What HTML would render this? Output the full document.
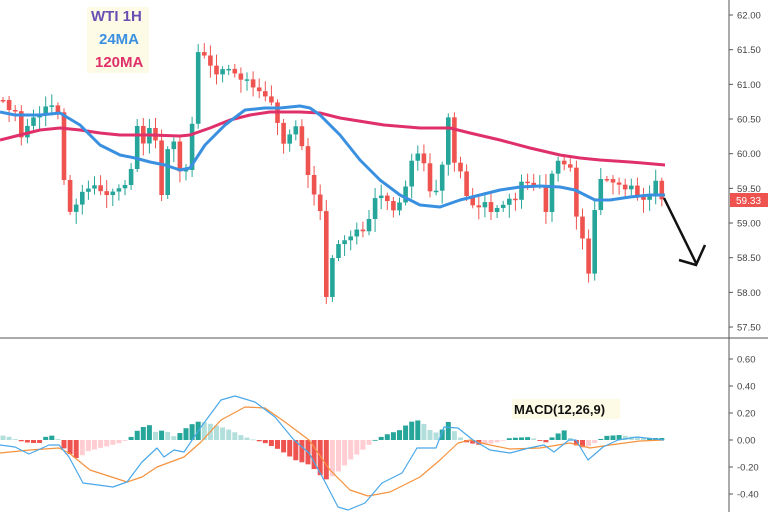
<!DOCTYPE html>
<html><head><meta charset="utf-8"><style>
body{margin:0;background:#fff;}
svg{display:block;font-family:"Liberation Sans",sans-serif;}
</style></head><body>
<svg id="s" width="768" height="512" viewBox="0 0 768 512"></svg>
<script>
const s=document.getElementById('s');let h='';
function interp(pts,x){for(let i=0;i<pts.length-1;i++){if(x>=pts[i][0]&&x<=pts[i+1][0]){const t=(x-pts[i][0])/(pts[i+1][0]-pts[i][0]);return pts[i][1]+t*(pts[i+1][1]-pts[i][1]);}}return pts[x<pts[0][0]?0:pts.length-1][1];}
function poly(p,c,w){return '<polyline fill="none" stroke="'+c+'" stroke-width="'+w+'" stroke-linejoin="round" points="'+p.map(a=>a.join(',')).join(' ')+'"/>';}
// axes
h+='<line x1="729" y1="0" x2="729" y2="512" stroke="#555" stroke-width="1"/>';
h+='<line x1="0" y1="338" x2="768" y2="338" stroke="#555" stroke-width="1"/>';
const pl=['62.00','61.50','61.00','60.50','60.00','59.50','59.00','58.50','58.00','57.50'];
pl.forEach((t,i)=>{const y=15+i*34.67;h+='<line x1="729" y1="'+y+'" x2="733" y2="'+y+'" stroke="#555"/><text x="737" y="'+(y+3.5)+'" font-size="9.5" fill="#444">'+t+'</text>';});
const ml=[['0.60',359],['0.40',386],['0.20',413],['0.00',440],['-0.20',467],['-0.40',494]];
ml.forEach(a=>{h+='<line x1="729" y1="'+a[1]+'" x2="733" y2="'+a[1]+'" stroke="#555"/><text x="737" y="'+(a[1]+3.5)+'" font-size="9.5" fill="#444">'+a[0]+'</text>';});
// candles
const cp=[[0,100],[3,100],[9,110],[15,110],[20,140],[25,130],[32,118],[40,115],[50,100],[56,118],[62,100],[64,180],[70,212],[76,205],[82,192],[95,185],[105,196],[112,192],[125,185],[130,180],[136,120],[142,150],[147,125],[155,135],[161,200],[167,150],[175,140],[180,172],[186,170],[192,125],[198,52],[204,55],[210,65],[216,75],[220,70],[226,68],[232,70],[240,80],[246,78],[255,90],[262,92],[268,100],[275,105],[281,148],[287,138],[293,130],[299,122],[305,172],[311,178],[317,210],[323,212],[327,315],[331,262],[337,245],[345,240],[353,235],[360,225],[366,238],[372,200],[380,195],[386,198],[392,212],[398,205],[404,195],[410,163],[416,155],[422,150],[428,192],[434,190],[440,192],[447,105],[453,162],[459,165],[466,195],[472,205],[478,208],[485,202],[491,212],[497,208],[503,205],[510,198],[516,200],[522,180],[528,183],[534,186],[540,185],[547,217],[553,165],[559,160],[565,165],[571,168],[577,222],[583,240],[589,276],[596,195],[602,175],[608,180],[614,183],[620,185],[626,190],[632,185],[638,198],[644,200],[650,195],[656,180],[662,200]];
let prev=100;
for(let i=0;i<109;i++){const x=3+i*6.1;const c=interp(cp,x);const o=prev;const top=Math.min(o,c),bot=Math.max(o,c);
const col=c<o?'#26a69a':'#ef5350';const w1=3+((i*37)%9),w2=3+((i*53)%11);
h+='<line x1="'+x+'" y1="'+(top-w1)+'" x2="'+x+'" y2="'+(bot+w2)+'" stroke="'+col+'" stroke-width="1"/>';
h+='<rect x="'+(x-2.3)+'" y="'+top+'" width="4.6" height="'+Math.max(1.5,bot-top)+'" fill="'+col+'"/>';prev=c;}
// MAs
const pink=[[0,140],[20,135],[40,130],[60,128],[80,130],[100,133],[120,135],[150,135],[180,136],[190,135],[210,128],[230,120],[250,115],[270,112],[300,112],[320,113],[340,118],[384,125],[420,128],[450,128],[470,133],[500,140],[530,148],[560,155],[580,158],[600,160],[630,162],[665,165]];
const blue=[[0,112],[15,115],[40,115],[60,113],[80,125],[100,145],[120,155],[135,158],[150,162],[165,165],[180,170],[190,168],[205,145],[225,125],[245,110],[265,108],[280,108],[300,106],[310,108],[320,115],[340,135],[360,160],[380,180],[400,195],[420,205],[440,207],[460,200],[480,195],[500,190],[520,187],[540,186],[560,187],[575,190],[585,195],[595,200],[610,200],[630,197],[650,195],[665,195]];
h+=poly(pink,'#e0306a',3)+poly(blue,'#3a90e0',3);
// price label
h+='<rect x="730" y="193" width="38" height="14" fill="#ef5350"/><text x="736" y="204" font-size="10" fill="#fff">59.33</text>';
// arrow
h+='<polyline fill="none" stroke="#111" stroke-width="2.5" points="664,198 696,263"/><polyline fill="none" stroke="#111" stroke-width="2.5" points="679,260 696,265 705,245"/>';
// legend
h+='<rect x="87" y="7" width="62" height="66" fill="#fdfbe6"/>';
h+='<text x="91" y="21" font-size="15" font-weight="bold" fill="#6a4fb3">WTI 1H</text>';
h+='<text x="99" y="44" font-size="15" font-weight="bold" fill="#3a90e0">24MA</text>';
h+='<text x="95" y="67" font-size="15" font-weight="bold" fill="#e0306a">120MA</text>';
// histogram
const hp=[[0,5],[10,3],[20,-1],[30,-3],[40,-3],[45,3],[55,5],[60,-2],[65,-10],[75,-18],[80,-18],[85,-12],[100,-8],[120,-3],[130,2],[140,12],[150,15],[155,8],[165,10],[175,3],[190,15],[200,19],[215,15],[230,10],[245,3],[255,0],[265,-3],[280,-10],[295,-20],[310,-25],[325,-40],[335,-35],[350,-20],[365,-8],[375,0],[385,5],[400,10],[410,18],[420,20],[430,10],[440,6],[447,20],[455,8],[465,-2],[480,-5],[495,-3],[510,2],[530,3],[545,-3],[555,5],[565,10],[575,-5],[585,-8],[595,-3],[605,4],[620,5],[640,2],[664,2]];
let pv=5;
for(let i=0;i<109;i++){const x=3+i*6.1;const v=interp(hp,x);let col;
if(v>=0)col=v>=pv?'#26a69a':'#b2dfdb';else col=v<=pv?'#ef5350':'#ffcdd2';
const y=v>=0?440-v:440;h+='<rect x="'+(x-2.5)+'" y="'+y+'" width="5" height="'+Math.max(0.8,Math.abs(v))+'" fill="'+col+'"/>';pv=v;}
const mb=[[0,445],[15,447],[29,454],[49,445],[59,445],[69,457],[83,483],[113,487],[127,482],[142,462],[157,448],[164,457],[174,450],[184,452],[201,427],[221,400],[235,396],[255,402],[275,417],[294,440],[309,453],[324,480],[338,507],[348,510],[365,503],[382,483],[402,473],[417,448],[436,448],[444,427],[458,428],[473,440],[490,450],[510,453],[529,448],[544,445],[554,452],[569,440],[576,440],[588,460],[603,447],[618,440],[637,437],[664,440]];
const mo=[[0,453],[30,450],[59,448],[69,453],[90,470],[127,482],[142,477],[157,467],[184,457],[201,442],[221,420],[245,407],[265,408],[285,422],[309,440],[330,470],[350,490],[368,496],[390,492],[420,477],[440,460],[458,443],[470,440],[490,445],[510,449],[540,448],[570,443],[590,448],[610,445],[640,441],[664,440]];
h+=poly(mo,'#f5923e',1.2)+poly(mb,'#4aa8e8',1.2);
h+='<rect x="512" y="399" width="108" height="20" fill="#fdfbe6"/><text x="514" y="414" font-size="13" font-weight="bold" fill="#111">MACD(12,26,9)</text>';
s.innerHTML=h;
</script>
</body></html>
